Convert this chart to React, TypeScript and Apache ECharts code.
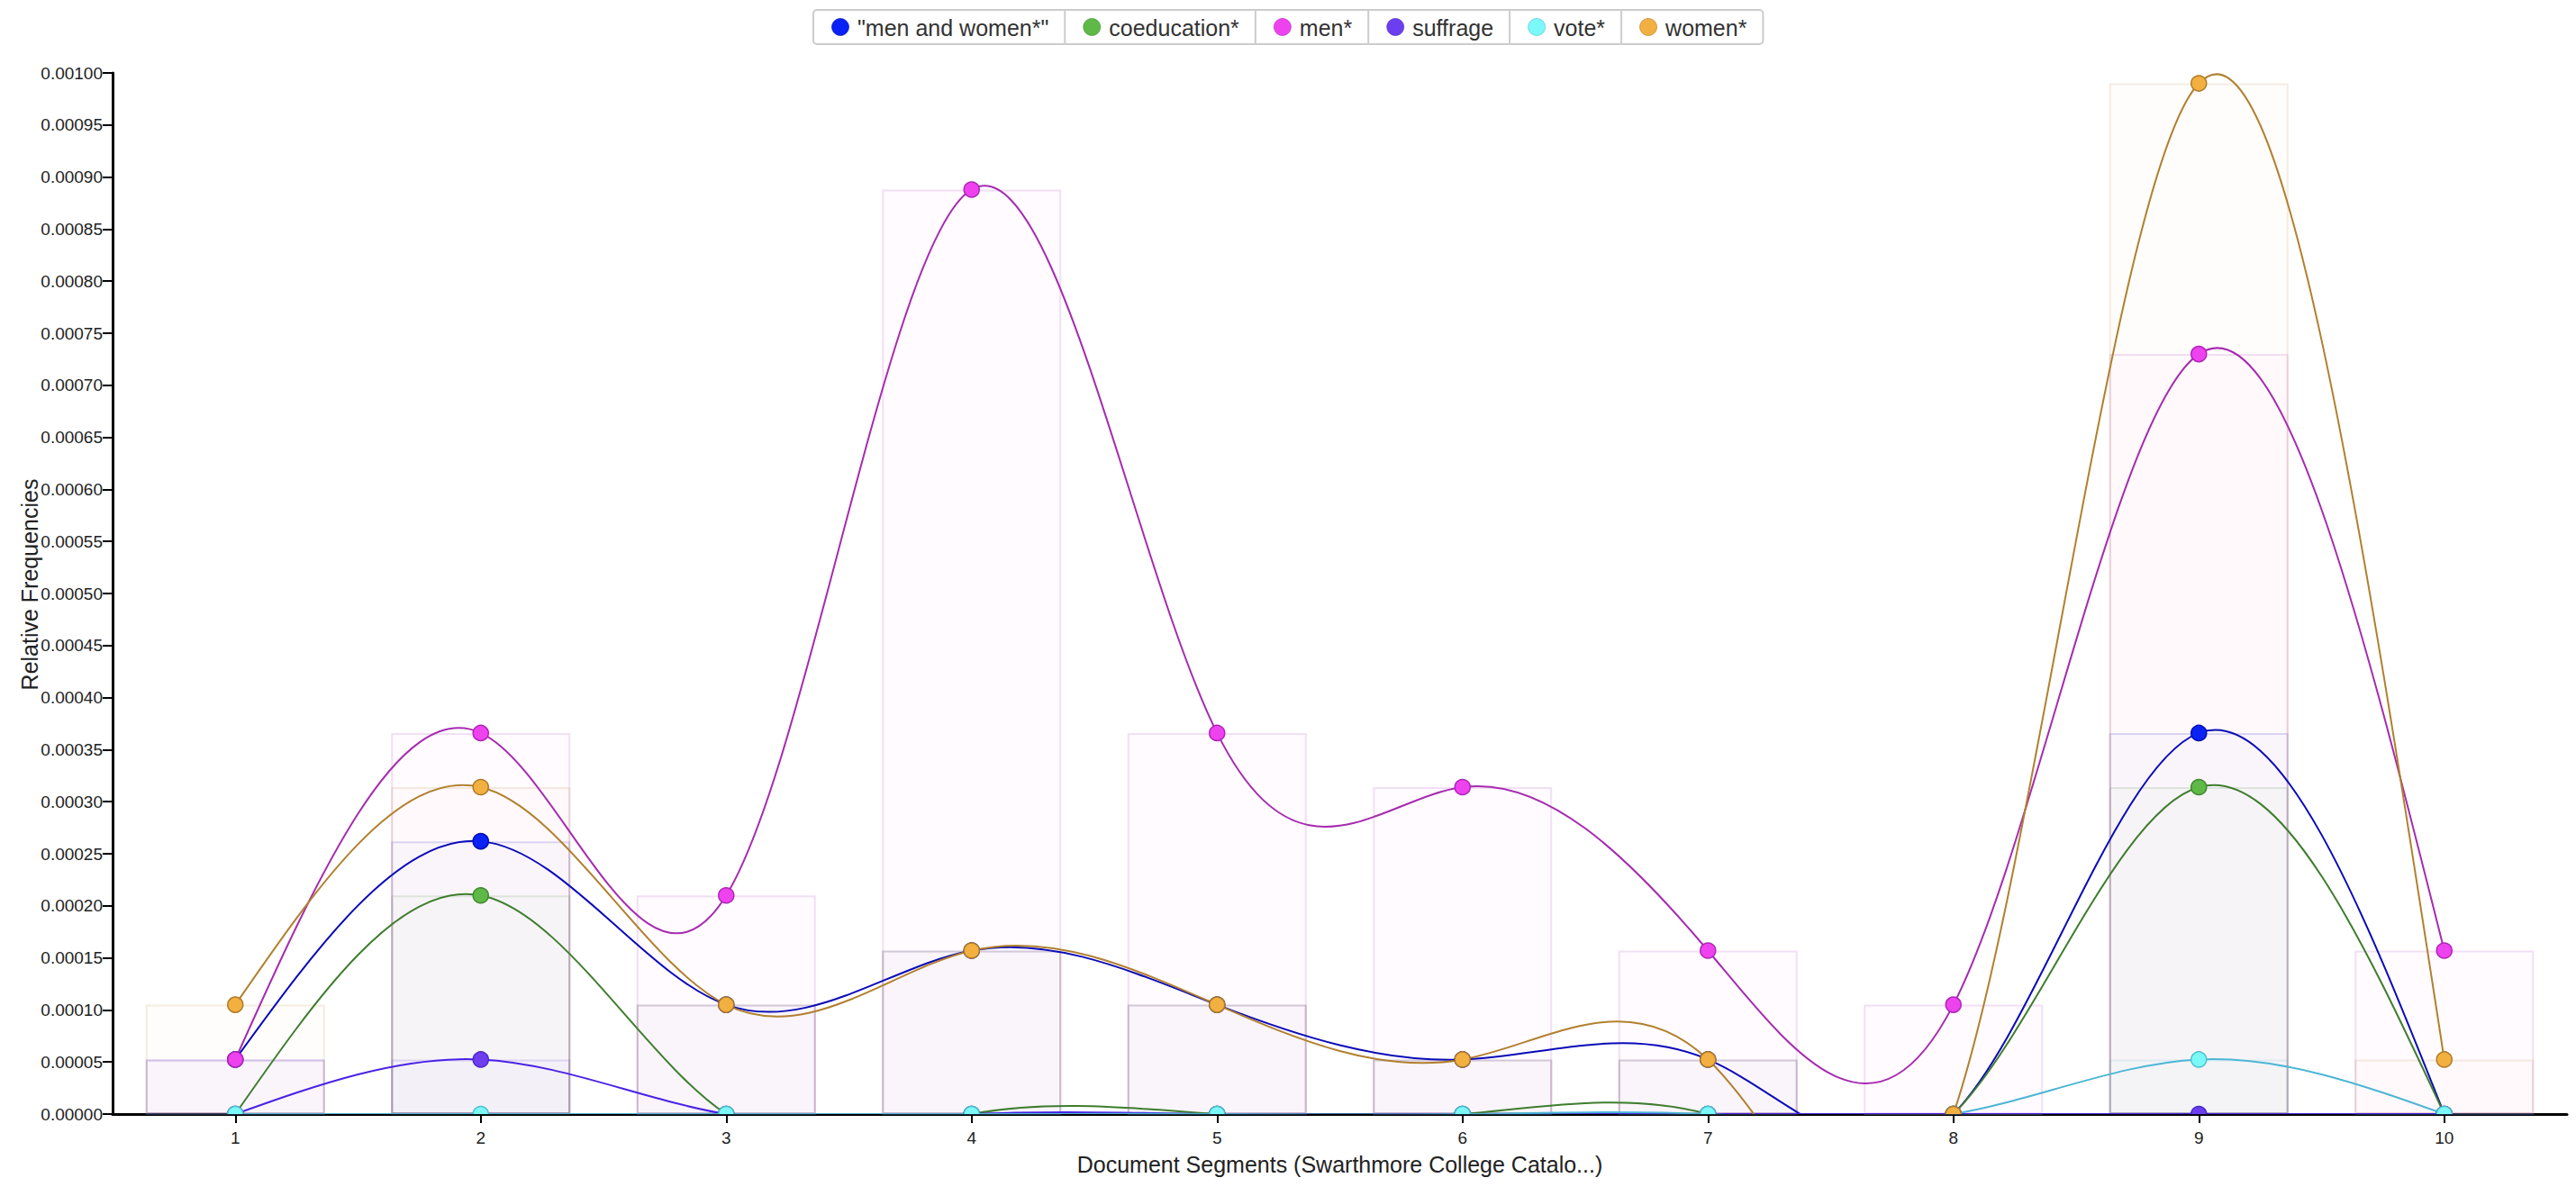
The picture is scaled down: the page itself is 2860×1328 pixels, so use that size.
import React, { useEffect, useRef } from 'react';
import * as echarts from 'echarts';

const FONT = "'Liberation Sans', Arial, Helvetica, sans-serif";

const segments = ['1', '2', '3', '4', '5', '6', '7', '8', '9', '10'];
const termNames = ['"men and women*"', 'coeducation*', 'men*', 'suffrage', 'vote*', 'women*'];

const menAndWomen = [0.0000524, 0.000262, 0.000105, 0.000157, 0.000105, 0.0000524, 0.0000524, 0, 0.000366, 0];
const coeducation = [0, 0.00021, 0, 0, 0, 0, 0, 0, 0.000314, 0];
const men = [0.0000524, 0.000366, 0.00021, 0.000888, 0.000366, 0.000314, 0.000157, 0.000105, 0.00073, 0.000157];
const suffrage = [0, 0.0000524, 0, 0, 0, 0, 0, 0, 0, 0];
const vote = [0, 0, 0, 0, 0, 0, 0, 0, 0.0000524, 0];
const women = [0.000105, 0.000314, 0.000105, 0.000157, 0.000105, 0.0000524, 0.0000524, 0, 0.00099, 0.0000524];

const termValues = [menAndWomen, coeducation, men, suffrage, vote, women];

const iconColors = ['#0a22f5', '#5eb947', '#ee42ef', '#6c3ef0', '#7bf9f9', '#f2b041'];
const lineColors = ['#0a0ab8', '#3e7d2e', '#a62bb0', '#4a22e6', '#4cb6d4', '#b1802e'];
const strokeColors = ['#0010b0', '#3f8a30', '#b025b8', '#4a28c8', '#4fbfcf', '#b07a28'];

const Y_MIN = 0;
const Y_MAX = 0.001;
const Y_STEP = 0.00005;

function rgba(hex: string, a: number) {
  const n = parseInt(hex.slice(1), 16);
  return `rgba(${(n >> 16) & 255},${(n >> 8) & 255},${n & 255},${a})`;
}

// natural cubic spline control points (same as d3.curveNatural)
function naturalCtrl(x: number[]) {
  const n = x.length - 1;
  const a: number[] = new Array(n);
  const b: number[] = new Array(n);
  const r: number[] = new Array(n);
  a[0] = 0; b[0] = 2; r[0] = x[0] + 2 * x[1];
  for (let i = 1; i < n - 1; ++i) { a[i] = 1; b[i] = 4; r[i] = 4 * x[i] + 2 * x[i + 1]; }
  a[n - 1] = 2; b[n - 1] = 7; r[n - 1] = 8 * x[n - 1] + x[n];
  for (let i = 1; i < n; ++i) { const m = a[i] / b[i - 1]; b[i] -= m; r[i] -= m * r[i - 1]; }
  a[n - 1] = r[n - 1] / b[n - 1];
  for (let i = n - 2; i >= 0; --i) a[i] = (r[i] - a[i + 1]) / b[i];
  b[n - 1] = (x[n] + a[n - 1]) / 2;
  for (let i = 0; i < n - 1; ++i) b[i] = 2 * x[i + 1] - a[i + 1];
  return [a, b];
}

function buildLegend(width: number) {
  const canvas = document.createElement('canvas');
  const ctx = canvas.getContext('2d') as CanvasRenderingContext2D;
  const fontSize = 25;
  ctx.font = `${fontSize}px ${FONT}`;
  const widths = termNames.map((t) => 49 + ctx.measureText(t).width + 18);
  const total = widths.reduce((s, w) => s + w, 0);
  const left = Math.round(width / 2 - total / 2);
  const top = 11;
  const h = 38;
  const children: any[] = [];
  children.push({
    type: 'rect',
    shape: { x: left, y: top, width: total, height: h, r: 4 },
    style: { fill: '#ffffff', stroke: '#cccccc', lineWidth: 2 },
    silent: true,
  });
  let x = left;
  termNames.forEach((t, k) => {
    if (k > 0) {
      children.push({
        type: 'line',
        shape: { x1: x, y1: top, x2: x, y2: top + h },
        style: { stroke: '#cccccc', lineWidth: 2 },
        silent: true,
      });
    }
    children.push({
      type: 'circle',
      shape: { cx: x + 30, cy: top + h / 2, r: 9.5 },
      style: { fill: iconColors[k], stroke: rgba(strokeColors[k], 0.6), lineWidth: 1 },
      silent: true,
    });
    children.push({
      type: 'text',
      style: {
        text: t,
        x: x + 49,
        y: top + h / 2 + 1,
        font: `${fontSize}px ${FONT}`,
        fill: '#333333',
        textVerticalAlign: 'middle',
        verticalAlign: 'middle',
      },
      silent: true,
    });
    x += widths[k];
  });
  return children;
}

export default function App() {
  const ref = useRef<HTMLDivElement>(null);

  useEffect(() => {
    document.body.style.margin = '0';
    if (!ref.current) return;
    const chart = echarts.init(ref.current, undefined, { renderer: 'svg' });

    const barSeries = termValues.map((vals, k) => ({
      type: 'bar',
      name: termNames[k] + ' bars',
      data: vals,
      barWidth: 199,
      barGap: '-100%',
      silent: true,
      itemStyle: {
        color: rgba(iconColors[k], 0.018),
        borderColor: rgba(lineColors[k], 0.14),
        borderWidth: 2,
      },
    }));

    const lineSeries = termValues.map((vals, k) => ({
      type: 'custom',
      name: termNames[k],
      clip: true,
      silent: true,
      data: vals.map((v, j) => [j, v]),
      encode: { x: 0, y: 1 },
      renderItem: (params: any, api: any) => {
        const i = params.dataIndex;
        const pts = vals.map((v, j) => api.coord([j, v]));
        const [ax, bx] = naturalCtrl(pts.map((p: number[]) => p[0]));
        const [ay, by] = naturalCtrl(pts.map((p: number[]) => p[1]));
        const children: any[] = [];
        if (i < pts.length - 1) {
          children.push({
            type: 'bezierCurve',
            z2: 1,
            shape: {
              x1: pts[i][0], y1: pts[i][1],
              cpx1: ax[i], cpy1: ay[i],
              cpx2: bx[i], cpy2: by[i],
              x2: pts[i + 1][0], y2: pts[i + 1][1],
            },
            style: { stroke: lineColors[k], lineWidth: 2, fill: 'none' },
          });
        }
        children.push({
          type: 'circle',
          z2: 10,
          shape: { cx: pts[i][0], cy: pts[i][1], r: 8.5 },
          style: { fill: iconColors[k], stroke: strokeColors[k], lineWidth: 1.5 },
        });
        return { type: 'group', children };
      },
    }));

    const option: any = {
      animation: false,
      backgroundColor: '#ffffff',
      textStyle: { fontFamily: FONT },
      grid: { left: 125, right: 10, top: 81, bottom: 91, containLabel: false },
      xAxis: {
        type: 'category',
        data: segments,
        boundaryGap: true,
        name: 'Document Segments (Swarthmore College Catalo...)',
        nameLocation: 'middle',
        nameGap: 43,
        nameMoveOverlap: false,
        nameTextStyle: { fontSize: 25, color: '#222222', fontFamily: FONT },
        axisLine: { show: true, lineStyle: { color: '#000000', width: 3 } },
        axisTick: { show: true, alignWithLabel: true, length: 10, lineStyle: { color: '#000000', width: 2 } },
        axisLabel: { fontSize: 19, color: '#222222', margin: 17, fontFamily: FONT },
        splitLine: { show: false },
      },
      yAxis: {
        type: 'value',
        min: Y_MIN,
        max: Y_MAX,
        interval: Y_STEP,
        name: 'Relative Frequencies',
        nameLocation: 'middle',
        nameGap: 80,
        nameMoveOverlap: false,
        nameRotate: 90,
        nameTextStyle: { fontSize: 25, color: '#222222', fontFamily: FONT, padding: [0, 0, 0, 20] },
        axisLine: { show: true, lineStyle: { color: '#000000', width: 3 } },
        axisTick: { show: true, length: 11, lineStyle: { color: '#000000', width: 2 } },
        axisLabel: {
          fontSize: 19,
          color: '#222222',
          margin: 11,
          fontFamily: FONT,
          formatter: (v: number) => v.toFixed(5),
        },
        splitLine: { show: false },
      },
      graphic: buildLegend(2860),
      series: [...barSeries, ...lineSeries],
    };

    chart.setOption(option);
    return () => chart.dispose();
  }, []);

  return <div ref={ref} style={{ width: 2860, height: 1328 }} />;
}
